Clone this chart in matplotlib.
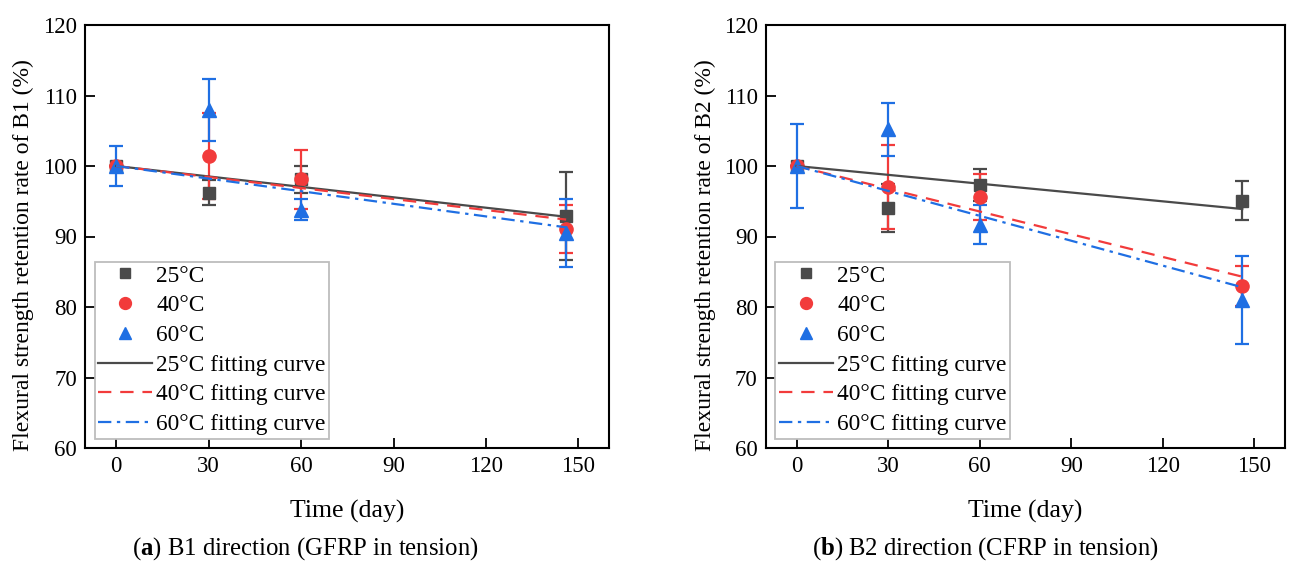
import matplotlib
matplotlib.use("Agg")
import matplotlib.pyplot as plt
from matplotlib.lines import Line2D

plt.rcParams['font.family'] = ['Liberation Serif', 'DejaVu Serif']
plt.rcParams['mathtext.fontset'] = 'custom'
plt.rcParams['mathtext.rm'] = 'Liberation Serif'
plt.rcParams['mathtext.bf'] = 'Liberation Serif:bold'

# Time points (day)
days = [0, 30, 60, 146]
fit_days = [0, 146]

# B1 direction (GFRP in tension)
b1_25 = [100, 96.2, 98.1, 92.9]
b1_25_err = [0.0, 1.8, 1.9, 6.2]
b1_40 = [100, 101.4, 98.1, 91.0]
b1_40_err = [0.0, 6.1, 4.2, 3.4]
b1_60 = [100, 107.9, 93.8, 90.5]
b1_60_err = [2.9, 4.4, 1.5, 4.8]
b1_fit_25 = [100, 92.8]
b1_fit_40 = [100, 92.4]
b1_fit_60 = [100, 91.3]

# B2 direction (CFRP in tension)
b2_25 = [100, 94.1, 97.3, 95.1]
b2_25_err = [0.0, 3.4, 2.3, 2.8]
b2_40 = [100, 97.0, 95.6, 83.0]
b2_40_err = [0.0, 6.0, 3.2, 2.8]
b2_60 = [100, 105.2, 91.7, 81.0]
b2_60_err = [5.9, 3.8, 2.8, 6.2]
b2_fit_25 = [100, 93.9]
b2_fit_40 = [100, 84.3]
b2_fit_60 = [100, 82.8]

c25 = '#4a4a4a'
c40 = '#f23b3b'
c60 = '#1f6fe3'
fs = 16.5


def draw_panel(ax, pts, errs, fits, ylabel):
    styles = [(c25, 's', 8), (c40, 'o', 9.5), (c60, '^', 10)]
    labels = ['25\u00b0C', '40\u00b0C', '60\u00b0C']
    handles = []
    for (col, mk, ms), y, e, lab in zip(styles, pts, errs, labels):
        ax.errorbar(days, y, yerr=e, fmt=mk, color=col, ms=ms, mec=col,
                    elinewidth=1.6, capsize=5, capthick=1.6, zorder=3)
        handles.append(Line2D([], [], ls='none', marker=mk, color=col,
                              ms=ms * 0.9, label=lab))
    l1, = ax.plot(fit_days, fits[0], color=c25, lw=1.6, ls='-', label='25\u00b0C fitting curve', zorder=4)
    l2, = ax.plot(fit_days, fits[1], color=c40, lw=1.6, ls=(0, (6, 4)), label='40\u00b0C fitting curve', zorder=4)
    l3, = ax.plot(fit_days, fits[2], color=c60, lw=1.6, ls=(0, (6, 2.5, 1.5, 2.5)), label='60\u00b0C fitting curve', zorder=4)
    handles += [l1, l2, l3]

    ax.set_xlim(-10, 160)
    ax.set_ylim(60, 120)
    ax.set_xticks([0, 30, 60, 90, 120, 150])
    ax.set_yticks([60, 70, 80, 90, 100, 110, 120])
    ax.tick_params(direction='in', length=7, width=1.3, labelsize=fs, pad=6)
    for s in ax.spines.values():
        s.set_linewidth(1.5)
    ax.set_xlabel('Time (day)', fontsize=18.5, labelpad=16)
    ax.set_ylabel(ylabel, fontsize=17, labelpad=2)
    ax.yaxis.set_label_coords(-0.097, 0.455)

    leg = ax.legend(handles=handles, loc='lower left',
                    fontsize=16.8, fancybox=False, edgecolor='#bdbdbd', framealpha=1,
                    handlelength=2.3, handletextpad=0.2, labelspacing=0.36,
                    borderpad=0.15, borderaxespad=0.4)
    leg.get_frame().set_linewidth(1.3)


fig = plt.figure(figsize=(12.9, 5.65), dpi=100)
ax1 = fig.add_axes([85.3 / 1290, 1 - 448 / 565, (609.3 - 85.3) / 1290, (448 - 25) / 565])
ax2 = fig.add_axes([766 / 1290, 1 - 448 / 565, (1285 - 766) / 1290, (448 - 25) / 565])

draw_panel(ax1, [b1_25, b1_40, b1_60], [b1_25_err, b1_40_err, b1_60_err],
           [b1_fit_25, b1_fit_40, b1_fit_60], 'Flexural strength retention rate of B1 (%)')
draw_panel(ax2, [b2_25, b2_40, b2_60], [b2_25_err, b2_40_err, b2_60_err],
           [b2_fit_25, b2_fit_40, b2_fit_60], 'Flexural strength retention rate of B2 (%)')

fig.text(305 / 1290, 1 - 549 / 565, r'($\mathbf{a}$) B1 direction (GFRP in tension)',
         ha='center', va='center', fontsize=17.8)
fig.text(985 / 1290, 1 - 549 / 565, r'($\mathbf{b}$) B2 direction (CFRP in tension)',
         ha='center', va='center', fontsize=17.8)

fig.savefig('out.png', dpi=100)
